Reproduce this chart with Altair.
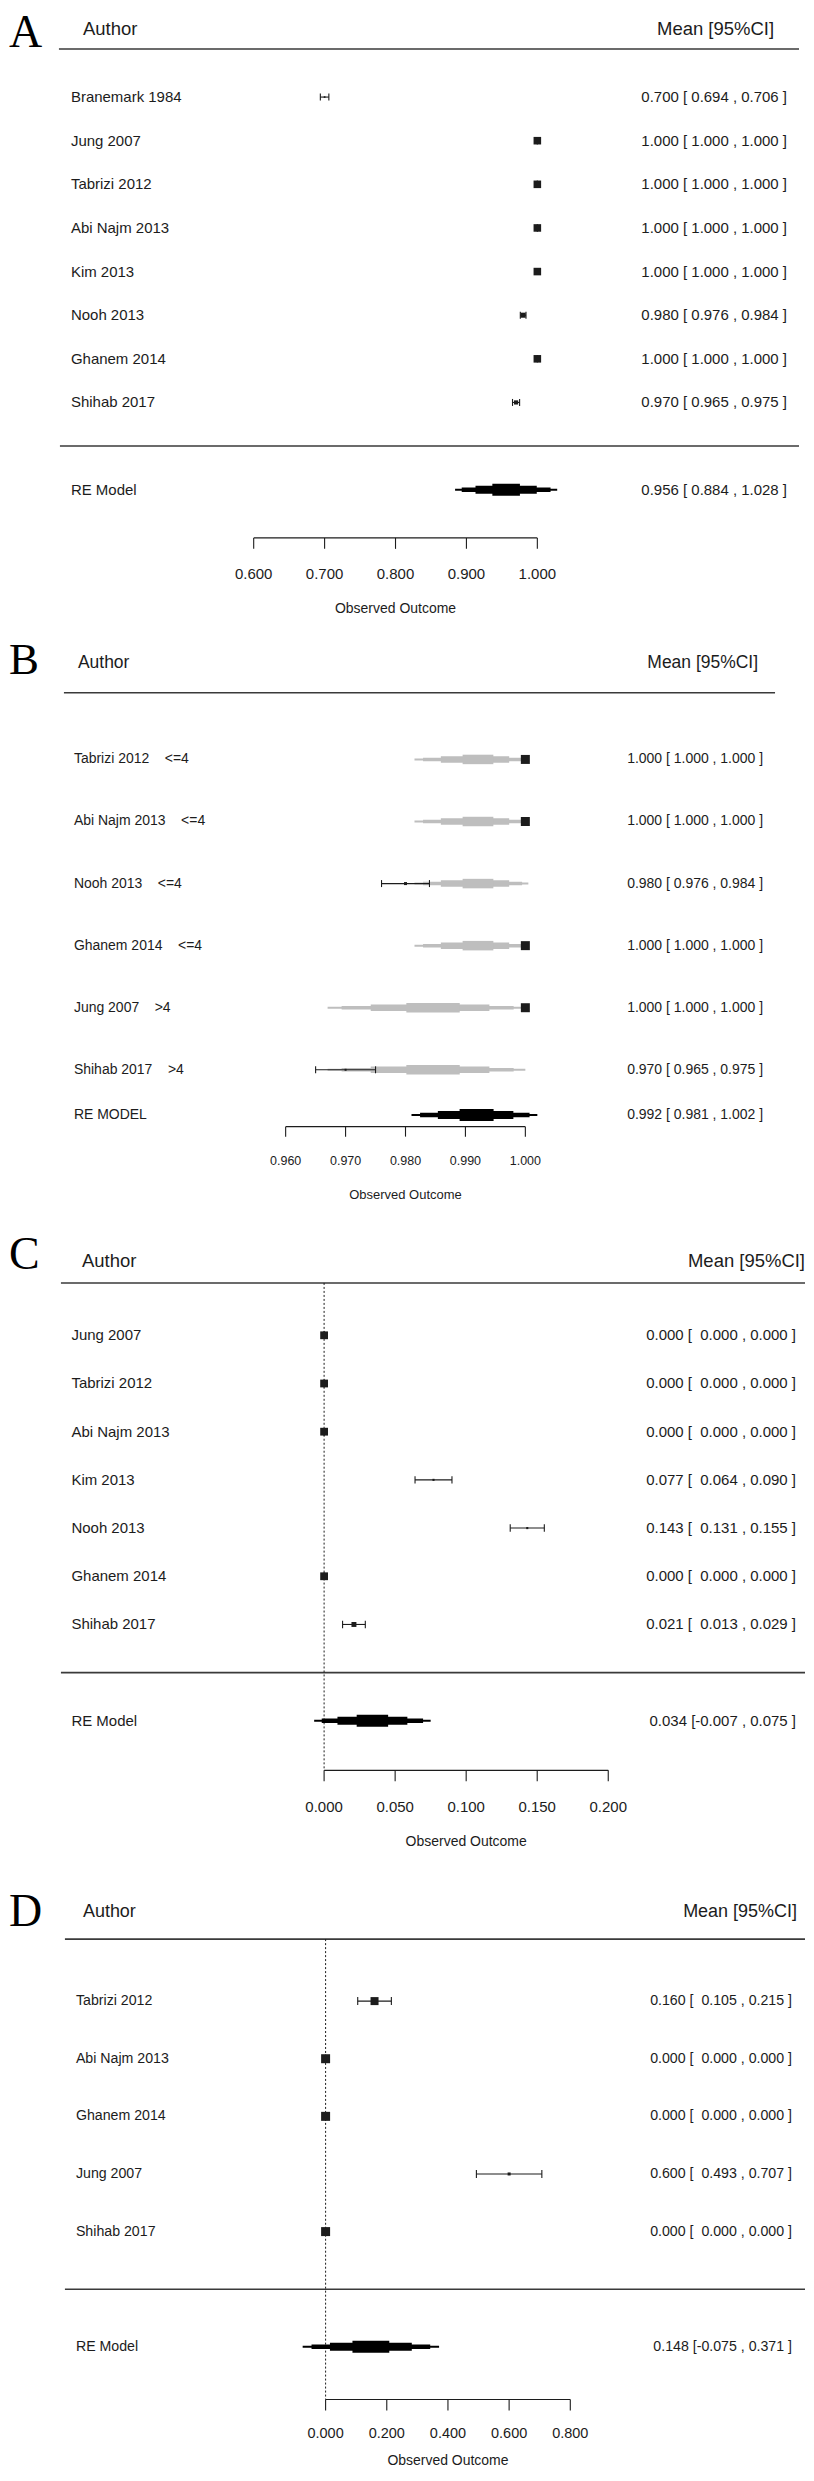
import altair as alt
import pandas as pd

FONT = "Liberation Sans"
SERIF = "Liberation Serif"
INK = "#1c1c1c"
LINE = "#3a3a3a"
GRAY = "#bebebe"
NB = "\u00a0"
W = 798

# ---------------- data ----------------
a_study = ["Branemark 1984", "Jung 2007", "Tabrizi 2012", "Abi Najm 2013", "Kim 2013",
           "Nooh 2013", "Ghanem 2014", "Shihab 2017"]
a_est = [0.700, 1.000, 1.000, 1.000, 1.000, 0.980, 1.000, 0.970]
a_lo = [0.694, 1.000, 1.000, 1.000, 1.000, 0.976, 1.000, 0.965]
a_hi = [0.706, 1.000, 1.000, 1.000, 1.000, 0.984, 1.000, 0.975]
a_weight = [0.85, 17, 17, 17, 17, 7.6, 17, 5.2]
a_re = [0.956, 0.884, 1.028]
a_ticks = [0.6, 0.7, 0.8, 0.9, 1.0]

b_study = ["Tabrizi 2012", "Abi Najm 2013", "Nooh 2013", "Ghanem 2014", "Jung 2007", "Shihab 2017"]
b_group = ["<=4", "<=4", "<=4", "<=4", ">4", ">4"]
b_est = [1.000, 1.000, 0.980, 1.000, 1.000, 0.970]
b_lo = [1.000, 1.000, 0.976, 1.000, 1.000, 0.965]
b_hi = [1.000, 1.000, 0.984, 1.000, 1.000, 0.975]
b_weight = [24, 24, 2.7, 24, 24, 1.2]
b_sub_names = ["<=4", ">4"]
b_sub_est = [0.9925, 0.985]
b_sub_lo = [0.9815, 0.967]
b_sub_hi = [1.0005, 1.000]
b_re = [0.992, 0.981, 1.002]
b_ticks = [0.96, 0.97, 0.98, 0.99, 1.0]

c_study = ["Jung 2007", "Tabrizi 2012", "Abi Najm 2013", "Kim 2013", "Nooh 2013",
           "Ghanem 2014", "Shihab 2017"]
c_est = [0.000, 0.000, 0.000, 0.077, 0.143, 0.000, 0.021]
c_lo = [0.000, 0.000, 0.000, 0.064, 0.131, 0.000, 0.013]
c_hi = [0.000, 0.000, 0.000, 0.090, 0.155, 0.000, 0.029]
c_weight = [18, 18, 18, 1.3, 1.3, 18, 7.3]
c_re = [0.034, -0.007, 0.075]
c_ticks = [0.0, 0.05, 0.1, 0.15, 0.2]

d_study = ["Tabrizi 2012", "Abi Najm 2013", "Ghanem 2014", "Jung 2007", "Shihab 2017"]
d_est = [0.160, 0.000, 0.000, 0.600, 0.000]
d_lo = [0.105, 0.000, 0.000, 0.493, 0.000]
d_hi = [0.215, 0.000, 0.000, 0.707, 0.000]
d_weight = [19, 24, 24, 2.7, 24]
d_re = [0.148, -0.075, 0.371]
d_ticks = [0.0, 0.2, 0.4, 0.6, 0.8]

# ---------------- style / layout ----------------
LEVEL_F = [1.0, 0.87, 0.6, 0.27]
BLACK_H = [2, 4.5, 8, 12]
GRAY_H = [2, 3.5, 6.5, 9.5]

LAYOUT = {
    "A": dict(H=617, letter_y=38, letter_size=46, head_y=19, author_x=75, mean_x=767, head_size=18.5,
              line_y=39.5, line_x=(51, 792), label_x=63, value_x=780, text_size=15,
              row1=84, step=44.4, sep=9, sep_x=(52, 792), re_row=10, axis_y=529, px=(246, 530),
              tick_size=11, tick_font=15, label_off=36, title_size=14, title_off=71, box=9, cap=7),
    "B": dict(H=603, letter_y=48, letter_size=45, head_y=37, author_x=70, mean_x=751, head_size=17.5,
              line_y=67, line_x=(56, 768), label_x=66, value_x=756, text_size=14,
              row1=131, step=63.2, sep=None, sep_x=None, re_row=6.728, axis_y=501.5, px=(278, 518),
              tick_size=10, tick_font=12.5, label_off=34.5, title_size=13, title_off=68.5, box=9, cap=7),
    "C": dict(H=657, letter_y=41, letter_size=46, head_y=33, author_x=74, mean_x=798, head_size=18.5,
              line_y=55, line_x=(53, 798), label_x=63.5, value_x=789, text_size=15,
              row1=104, step=49, sep=8, sep_x=(53, 798), re_row=9, axis_y=543, px=(316.5, 601),
              tick_size=11, tick_font=15, label_off=37, title_size=14, title_off=72, box=11, cap=7.5),
    "D": dict(H=585, letter_y=42, letter_size=46, head_y=28, author_x=75, mean_x=790, head_size=18,
              line_y=55, line_x=(57, 798), label_x=68, value_x=785, text_size=14.2,
              row1=114, step=58.7, sep=6, sep_x=(57, 798), re_row=7, axis_y=516, px=(318, 563),
              tick_size=11, tick_font=14.5, label_off=35, title_size=14, title_off=62, box=9, cap=8),
}


def ci_text(e, l, h, pad_neg):
    if pad_neg:
        lo_s = ("[" + f"{l:.3f}") if l < 0 else ("[  " + f"{l:.3f}")
    else:
        lo_s = "[ " + f"{l:.3f}"
    return f"{e:.3f} {lo_s} , {h:.3f} ]".replace(" ", NB)


def panel(L, letter, labels, est, lo, hi, weight, re, re_label, ticks, pad_neg,
          groups=None, dotted=False):
    H = L["H"]
    slope = (L["px"][1] - L["px"][0]) / (ticks[-1] - ticks[0])
    d0 = ticks[0] - L["px"][0] / slope
    xs = alt.Scale(domain=[d0, d0 + W / slope], nice=False, zero=False)
    ys = alt.Scale(domain=[1 - L["row1"] / L["step"], 1 + (H - L["row1"]) / L["step"]],
                   nice=False, zero=False, reverse=True)

    def X(f):
        return alt.X(f"{f}:Q", scale=xs, axis=None)

    def Y(f="row"):
        return alt.Y(f"{f}:Q", scale=ys, axis=None)

    n = len(labels)
    df = pd.DataFrame({
        "label": labels, "est": est, "lo": lo, "hi": hi, "weight": weight,
        "row": list(range(1, n + 1)),
        "value": [ci_text(e, l, h, pad_neg) for e, l, h in zip(est, lo, hi)],
    })
    one = pd.DataFrame({"a": [0]})
    layers = []

    # panel letter and header
    layers.append(alt.Chart(pd.DataFrame({"t": [letter]})).mark_text(
        align="left", baseline="alphabetic", font=SERIF, fontSize=L["letter_size"], color="black"
    ).encode(x=alt.value(1), y=alt.value(L["letter_y"]), text="t:N"))
    layers.append(alt.Chart(pd.DataFrame({"t": ["Author"]})).mark_text(
        align="left", baseline="middle", font=FONT, fontSize=L["head_size"], color=INK
    ).encode(x=alt.value(L["author_x"]), y=alt.value(L["head_y"]), text="t:N"))
    layers.append(alt.Chart(pd.DataFrame({"t": ["Mean [95%CI]"]})).mark_text(
        align="right", baseline="middle", font=FONT, fontSize=L["head_size"], color=INK
    ).encode(x=alt.value(L["mean_x"]), y=alt.value(L["head_y"]), text="t:N"))
    layers.append(alt.Chart(one).mark_rule(color=LINE, strokeWidth=1.6).encode(
        x=alt.value(L["line_x"][0]), x2=alt.value(L["line_x"][1]), y=alt.value(L["line_y"])))
    if L["sep"] is not None:
        layers.append(alt.Chart(pd.DataFrame({"k": [L["sep"]]})).mark_rule(color=LINE, strokeWidth=1.6).encode(
            x=alt.value(L["sep_x"][0]), x2=alt.value(L["sep_x"][1]), y=Y("k")))
    if dotted:
        layers.append(alt.Chart(pd.DataFrame({"z": [0.0]})).mark_rule(
            color=INK, strokeWidth=1, strokeDash=[2, 2]
        ).encode(x=X("z"), y=alt.value(L["line_y"]), y2=alt.value(L["axis_y"])))

    # subgroup (grey) summary shapes
    if groups is not None:
        g_est, g_lo, g_hi = [], [], []
        for g in groups:
            i = b_sub_names.index(g)
            g_est.append(b_sub_est[i]); g_lo.append(b_sub_lo[i]); g_hi.append(b_sub_hi[i])
        for f, h in zip(LEVEL_F, GRAY_H):
            gd = pd.DataFrame({
                "x1": [e - f * (e - l) for e, l in zip(g_est, g_lo)],
                "x2": [e + f * (u - e) for e, u in zip(g_est, g_hi)],
                "row": list(range(1, n + 1)),
            })
            layers.append(alt.Chart(gd).mark_bar(orient="horizontal", size=h, color=GRAY).encode(
                x=X("x1"), x2="x2", y=Y()))

    # confidence intervals
    layers.append(alt.Chart(df).mark_rule(color=INK, strokeWidth=1.1).encode(x=X("lo"), x2="hi", y=Y()))
    for f in ["lo", "hi"]:
        layers.append(alt.Chart(df).mark_tick(
            orient="vertical", size=L["cap"], thickness=1.1, color=INK, opacity=1
        ).encode(x=X(f), y=Y()))

    # study squares
    layers.append(alt.Chart(df).mark_square(color=INK, filled=True, opacity=1).encode(
        x=X("est"),
        y=Y(),
        size=alt.Size("weight:Q", scale=alt.Scale(domain=[0, max(weight)], range=[0, L["box"] ** 2]),
                      legend=None),
    ))

    # R-style axis: line between first and last tick, ticks, labels, title
    ay = L["axis_y"]
    layers.append(alt.Chart(pd.DataFrame({"a": [ticks[0]], "b": [ticks[-1]]})).mark_rule(
        color=INK, strokeWidth=1.1).encode(x=X("a"), x2="b", y=alt.value(ay)))
    tdf = pd.DataFrame({"t": ticks, "s": [f"{t:.3f}" for t in ticks]})
    layers.append(alt.Chart(tdf).mark_rule(color=INK, strokeWidth=1.1).encode(
        x=X("t"), y=alt.value(ay), y2=alt.value(ay + L["tick_size"])))
    layers.append(alt.Chart(tdf).mark_text(
        align="center", baseline="middle", font=FONT, fontSize=L["tick_font"], color=INK
    ).encode(x=X("t"), y=alt.value(ay + L["label_off"]), text="s:N"))
    layers.append(alt.Chart(pd.DataFrame({"m": [(ticks[0] + ticks[-1]) / 2], "s": ["Observed Outcome"]})).mark_text(
        align="center", baseline="middle", font=FONT, fontSize=L["title_size"], color=INK
    ).encode(x=X("m"), y=alt.value(ay + L["title_off"]), text="s:N"))

    # RE summary shape
    for f, h in zip(LEVEL_F, BLACK_H):
        rd = pd.DataFrame({"x1": [re[0] - f * (re[0] - re[1])], "x2": [re[0] + f * (re[2] - re[0])],
                           "row": [L["re_row"]]})
        layers.append(alt.Chart(rd).mark_bar(orient="horizontal", size=h, color="black").encode(
            x=X("x1"), x2="x2", y=Y()))

    # texts
    layers.append(alt.Chart(df).mark_text(
        align="left", baseline="middle", font=FONT, fontSize=L["text_size"], color=INK
    ).encode(x=alt.value(L["label_x"]), y=Y(), text="label:N"))
    layers.append(alt.Chart(df).mark_text(
        align="right", baseline="middle", font=FONT, fontSize=L["text_size"], color=INK
    ).encode(x=alt.value(L["value_x"]), y=Y(), text="value:N"))
    red = pd.DataFrame({"label": [re_label], "value": [ci_text(re[0], re[1], re[2], pad_neg)],
                        "row": [L["re_row"]]})
    layers.append(alt.Chart(red).mark_text(
        align="left", baseline="middle", font=FONT, fontSize=L["text_size"], color=INK
    ).encode(x=alt.value(L["label_x"]), y=Y(), text="label:N"))
    layers.append(alt.Chart(red).mark_text(
        align="right", baseline="middle", font=FONT, fontSize=L["text_size"], color=INK
    ).encode(x=alt.value(L["value_x"]), y=Y(), text="value:N"))

    return alt.layer(*layers).properties(width=W, height=H)


pA = panel(LAYOUT["A"], "A", a_study, a_est, a_lo, a_hi, a_weight, a_re, "RE Model", a_ticks, False)
b_labels = [s + NB * 4 + g for s, g in zip(b_study, b_group)]
pB = panel(LAYOUT["B"], "B", b_labels, b_est, b_lo, b_hi, b_weight, b_re, "RE MODEL", b_ticks, False,
           groups=b_group)
pC = panel(LAYOUT["C"], "C", c_study, c_est, c_lo, c_hi, c_weight, c_re, "RE Model", c_ticks, True,
           dotted=True)
pD = panel(LAYOUT["D"], "D", d_study, d_est, d_lo, d_hi, d_weight, d_re, "RE Model", d_ticks, True,
           dotted=True)

chart = alt.vconcat(pA, pB, pC, pD, spacing=0, bounds="flush").properties(
    padding=0
).configure_view(stroke=None)

chart.save("out.html", embed_options={"renderer": "svg", "actions": False})
